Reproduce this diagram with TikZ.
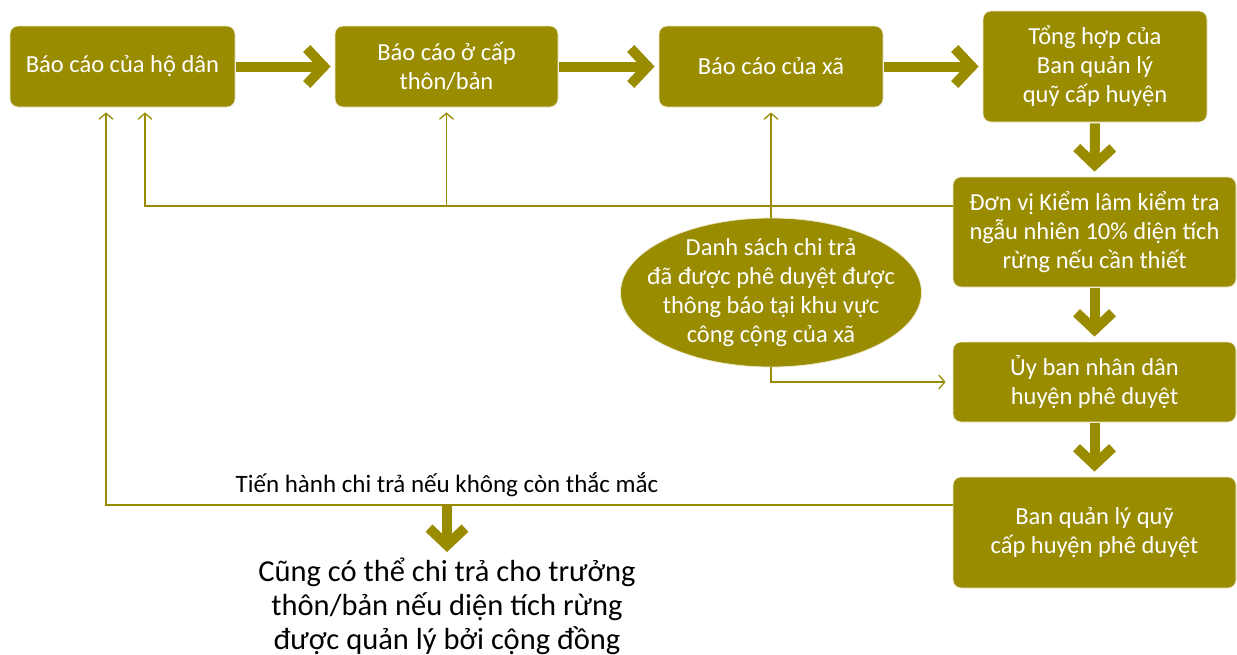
\documentclass[tikz,border=0pt]{standalone}
\usepackage{fontspec}
\setmainfont{Carlito}
\usetikzlibrary{arrows.meta,shapes.geometric}
\definecolor{olive}{RGB}{153,140,0}
\definecolor{rim}{RGB}{236,232,205}
\begin{document}
\begin{tikzpicture}[x=1pt,y=-1pt,
  stepbox/.style={rectangle,rounded corners=8pt,fill=olive,draw=rim,line width=0.8pt,
    text=white,align=center,font=\fontsize{24.5}{29}\selectfont,inner sep=0pt},
  oval/.style={ellipse,fill=olive,draw=rim,line width=0.8pt,inner sep=0pt},
  ovaltext/.style={text=white,align=center,font=\fontsize{24.5}{29}\selectfont,inner sep=0pt},
  bigarrow/.style={draw=olive,line width=10pt,
    -{Straight Barb[length=17pt,width=36pt,line width=10pt]}},
  link/.style={draw=olive,line width=1.3pt,-{Straight Barb[length=6pt,width=14pt,line width=1.3pt]}}]
\useasboundingbox (0,0) rectangle (1237,654);

% top row of reports
\node[stepbox,minimum width=225,minimum height=81] (b1) at (122.5,66.5) {Báo cáo của hộ dân};
\node[stepbox,minimum width=223,minimum height=81] (b2) at (446.5,66.5) {Báo cáo ở cấp\\thôn/bản};
\node[stepbox,minimum width=224,minimum height=81] (b3) at (771,66.5) {Báo cáo của xã};
\node[stepbox,minimum width=224,minimum height=111] (b4) at (1095,66.5) {Tổng hợp của\\Ban quản lý\\quỹ cấp huyện};

% right column of checks and approvals
\node[stepbox,minimum width=283,minimum height=110] (b5) at (1094.5,232) {Đơn vị Kiểm lâm kiểm tra\\ngẫu nhiên 10\% diện tích\\rừng nếu cần thiết};
\node[stepbox,minimum width=283,minimum height=80] (b6) at (1094.5,382) {Ủy ban nhân dân\\huyện phê duyệt};
\node[stepbox,minimum width=283,minimum height=111] (b7) at (1094.5,532.5) {Ban quản lý quỹ\\cấp huyện phê duyệt};

% published list: the oval and its text
\node[oval,minimum width=301,minimum height=149] (el) at (771,292.5) {};
\node[ovaltext] (elt) at (el.center) {Danh sách chi trả\\đã được phê duyệt được\\thông báo tại khu vực\\công cộng của xã};

% main flow
\draw[bigarrow,shorten >=4pt,shorten <=1pt] (b1.east) -- (b2.west);
\draw[bigarrow,shorten >=4pt,shorten <=1pt] (b2.east) -- (b3.west);
\draw[bigarrow,shorten >=4pt,shorten <=1pt] (b3.east) -- (b4.west);
\draw[bigarrow,shorten >=5pt,shorten <=1pt] (b4.south) -- (b5.north);
\draw[bigarrow,shorten >=5pt,shorten <=1pt] (b5.south) -- (b6.north);
\draw[bigarrow,shorten >=5pt,shorten <=1pt] (b6.south) -- (b7.north);

% feedback lines
\draw[link,shorten >=5pt] (b5.west |- 0,206) -| ([xshift=22.5pt]b1.south);
\draw[link,shorten >=5pt] (b2.south |- 0,206) -- (b2.south);
\draw[link,shorten >=5pt] (el.north) -- (b3.south);
\draw[link,shorten >=7pt] (el.south) |- (b6.west);
\draw[link,shorten >=5pt] (b7.west |- 0,505) -| ([xshift=-16.5pt]b1.south);

% payment note
\node[font=\fontsize{25}{29}\selectfont,anchor=base] (pay) at (447,492) {Tiến hành chi trả nếu không còn thắc mắc};
\coordinate (drop) at (447,505);
\node[font=\fontsize{30.5}{34}\selectfont,align=center,anchor=north,inner sep=0pt] (note) at (447,558) {Cũng có thể chi trả cho trưởng\\thôn/bản nếu diện tích rừng\\được quản lý bởi cộng đồng};
\draw[bigarrow,shorten >=6pt] (drop) -- (note.north);
\end{tikzpicture}
\end{document}
